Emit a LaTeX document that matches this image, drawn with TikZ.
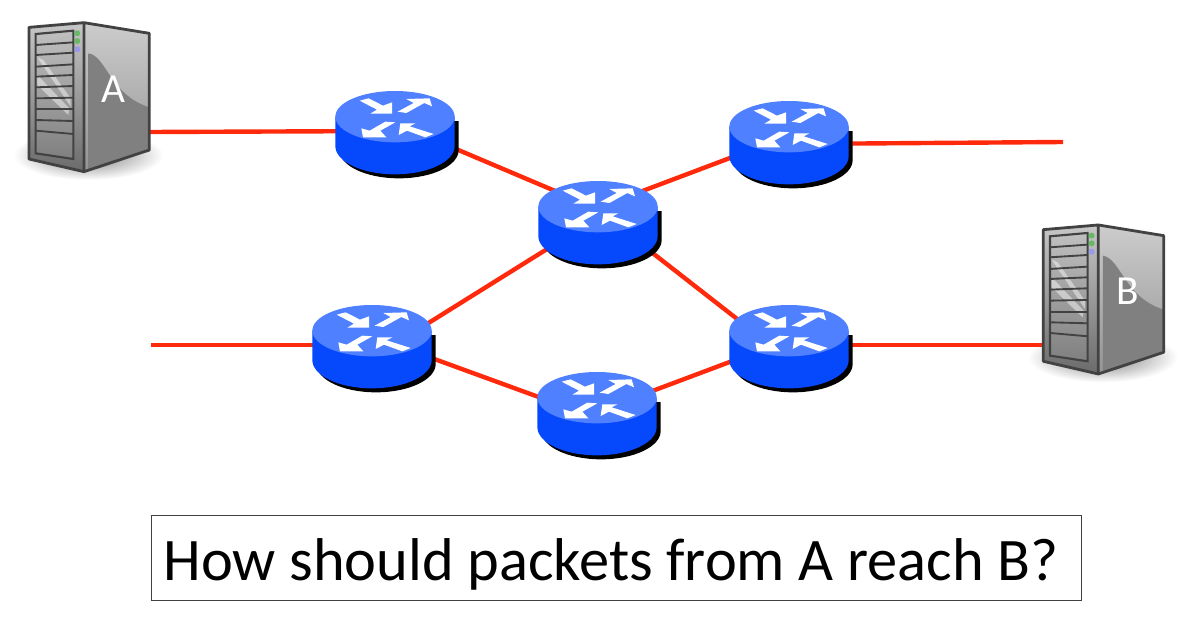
\documentclass[tikz,border=0pt]{standalone}
\usepackage{fontspec}
\setmainfont{Carlito}
\usetikzlibrary{calc}

\definecolor{linkred}{RGB}{255,42,12}
\definecolor{routertop}{RGB}{78,128,255}
\definecolor{routerwall}{RGB}{6,72,252}
\definecolor{serverdark}{RGB}{66,66,66}

\tikzset{
    link/.style={draw=linkred, line width=3.3pt},
    routerbox/.style={minimum width=91.5pt, minimum height=65pt, inner sep=0pt},
    serverbox/.style={minimum width=90pt, minimum height=112pt, inner sep=0pt},
    router/.pic={
        \begin{scope}[x=.25pt, y=-.25pt, shift={(-215,-159)}]
            % shadow, wall, top
            \fill[black] (42,120) -- (42,207) arc[start angle=180, end angle=0, x radius=179, y radius=85]
                -- (400,120) -- cycle;
            \fill[routerwall] (30,107) -- (30,195) arc[start angle=180, end angle=0, x radius=179, y radius=85]
                -- (388,107) -- cycle;
            \fill[routertop] (209,107) ellipse[x radius=179, y radius=77];
            \fill[white] (103,59) -- (130,52) -- (173,74) -- (200,64) -- (200,98) -- (135,98) -- (155,86) -- cycle;
            \fill[white] (217,92) -- (265,66) -- (243,54) -- (313,52) -- (320,76) -- (297,66) -- (243,96) -- cycle;
            \fill[white] (210,124) -- (165,149) -- (183,169) -- (113,169) -- (108,142) -- (133,149) -- (180,122) -- cycle;
            \fill[white] (225,127) -- (270,127) -- (253,136) -- (325,159) -- (300,169) -- (245,149) -- (220,162) -- cycle;
        \end{scope}
    },
    floorshadow/.pic={
        \begin{scope}[x=.25pt, y=-.25pt]
            \shade[inner color=black!52, outer color=white] (235,435) ellipse[x radius=225, y radius=75];
        \end{scope}
    },
    server/.pic={
        \begin{scope}[x=.25pt, y=-.25pt]
            % right face
            \path[top color=black!20, bottom color=black!42] (222,38) -- (418,70) -- (418,420) -- (222,485) -- cycle;
            \path[top color=black!50, bottom color=black!50] (236,130)
                .. controls (290,140) and (300,255) .. (418,292) -- (418,420) -- (236,478) -- cycle;
            % front face and rack
            \path[top color=black!22, bottom color=black!58] (57,52) -- (222,38) -- (222,485) -- (57,447) -- cycle;
            \path[top color=black!25, bottom color=black!50] (77,72) -- (190,62) -- (190,447) -- (77,430) -- cycle;
            \fill[white, opacity=.45] (82,142) -- (100,150) -- (182,265) -- (182,290) -- cycle;
            \fill[white, opacity=.45] (82,195) -- (82,225) -- (175,315) -- (178,295) -- cycle;
            \foreach \lefty/\righty in {105/97, 135/128, 170/163, 200/195, 232/228, 265/263, 298/298, 330/333, 362/372}
                \draw[serverdark, line width=1.4pt] (77,\lefty) -- (190,\righty);
            \draw[serverdark, line width=1.6pt] (77,72) -- (190,62) -- (190,447) -- (77,430) -- cycle;
            \draw[serverdark, line width=2.1pt, line join=round] (57,52) -- (222,38) -- (418,70) -- (418,420)
                -- (222,485) -- (57,447) -- cycle (222,38) -- (222,485);
            % lamps
            \fill[black!45!green!60!white] (202,70) circle[radius=9];
            \fill[black!45!green!60!white] (202,93) circle[radius=9];
            \fill[black!20!blue!40!white] (202,118) circle[radius=9];
            \node[text=white, font=\fontsize{31}{31}\selectfont] (-name) at (310,237) {#1};
        \end{scope}
    },
}

\begin{document}
\begin{tikzpicture}[x=.75pt, y=-.75pt]
    \useasboundingbox (0,0) rectangle (1187,628);

    \node[serverbox] at (89, 97)(srva){};
    \node[serverbox] at (1104, 299)(srvb){};
    \node[routerbox] at (397, 134)(rtra){};
    \node[routerbox] at (600, 224)(rtrc){};
    \node[routerbox] at (791, 144)(rtrb){};
    \node[routerbox] at (374, 348)(rtrd){};
    \node[routerbox] at (791, 348)(rtre){};
    \node[routerbox] at (599, 415)(rtrf){};
    \coordinate (endb) at (1063, 142);
    \coordinate (endd) at (151, 345);

    \pic at (10, 10) {floorshadow};
    \pic at (1024.3, 212.3) {floorshadow};

    \path[link]
        ($(srva.east)+(0,35)$)edge($(rtra)+(0,-3)$)
        ($(rtra)+(0,-10)$)edge($(rtrc)+(0,-14)$)
        ($(rtrc)+(0,-17)$)edge($(rtrb)+(0,-9)$)
        (rtrb)edge(endb)
        ($(rtrc)+(0,-8)$)edge($(rtrd)+(0,9)$)
        ($(rtrc)+(0,-12)$)edge($(rtre)+(0,13)$)
        (endd)edge($(rtrd)+(0,-3)$)
        ($(rtrd)+(0,-11)$)edge($(rtrf)+(0,4)$)
        ($(rtrf)+(0,-4)$)edge($(rtre)+(0,-9)$)
        ($(rtre)+(0,-3)$)edge($(srvb.west)+(0,46)$)
        ;

    \pic (pica) at (10, 10) {server=A};
    \pic (picb) at (1024.3, 212.3) {server=B};
    \foreach \rtr in {rtra, rtrb, rtrc, rtrd, rtre, rtrf}
        \pic at (\rtr) {router};

    \node[draw=black!75, line width=.7pt, inner sep=0pt, minimum width=697.5pt,
        text height=49pt, text depth=15pt,
        font=\fontsize{45.3}{45}\selectfont] at (616.5, 558)(question){How should packets from A reach B?\hspace*{8.2pt}};
\end{tikzpicture}
\end{document}
